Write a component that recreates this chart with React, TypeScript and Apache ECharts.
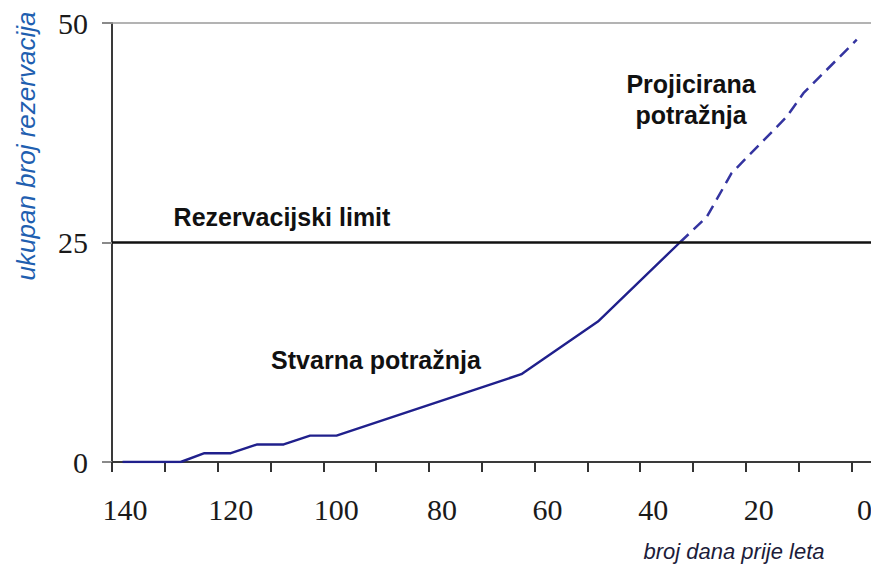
import React, { useEffect, useRef } from "react";
import * as echarts from "echarts";

// Actual bookings (days before flight, cumulative bookings)
const actualDays = [138, 127, 122.5, 117.5, 112.5, 107.5, 102.5, 97.5, 62.5, 48, 32.5];
const actualBookings = [0, 0, 1, 1, 2, 2, 3, 3, 10, 16, 25];

// Projected demand (dashed)
const projectedDays = [32.5, 27.4, 22.7, 12.3, 9.1, -1];
const projectedBookings = [25, 27.9, 32.9, 39.3, 42, 48.1];

// Booking limit and axis ticks
const bookingLimit = 25;
const yTicks = [0, 25, 50];
const xTickValues = [0, 10, 20, 30, 40, 50, 60, 70, 80, 90, 100, 110, 120, 130, 140];
const xLabelValues = [0, 20, 40, 60, 80, 100, 120, 140];

export default function App() {
  const ref = useRef<HTMLDivElement>(null);

  useEffect(() => {
    if (!ref.current) return;
    const chart = echarts.init(ref.current, null, { renderer: "svg" });
    const lineColor = "#20208c";
    chart.setOption({
      animation: false,
      backgroundColor: "#ffffff",
      grid: { left: 112, right: 0, top: 23, bottom: 102, containLabel: false, outerBoundsMode: "none" },
      xAxis: {
        type: "value",
        inverse: true,
        min: -3.7,
        max: 140,
        axisLine: { show: true, onZero: false, lineStyle: { color: "#3a3a3a", width: 2 } },
        axisTick: {
          show: true,
          inside: false,
          length: 10,
          customValues: xTickValues,
          lineStyle: { color: "#333", width: 2 },
        },
        axisLabel: {
          customValues: xLabelValues,
          margin: 32,
          padding: [0, 0, 0, 26],
          fontFamily: "Liberation Serif",
          fontSize: 30,
          color: "#1a1a1a",
        },
        splitLine: { show: false },
      },
      yAxis: {
        type: "value",
        min: 0,
        max: 50,
        interval: 25,
        axisLine: { show: true, onZero: false, lineStyle: { color: "#3a3a3a", width: 2 } },
        axisTick: {
          show: true,
          length: 10,
          customValues: yTicks,
          lineStyle: { color: "#8a8a8a", width: 2 },
        },
        axisLabel: {
          customValues: yTicks,
          margin: 24,
          fontFamily: "Liberation Serif",
          fontSize: 30,
          color: "#1a1a1a",
        },
        splitLine: { show: false },
      },
      series: [
        {
          name: "Stvarna potražnja",
          type: "line",
          data: actualDays.map((d, i) => [d, actualBookings[i]]),
          symbol: "none",
          lineStyle: { color: lineColor, width: 2.4 },
          z: 3,
          markLine: {
            silent: true,
            symbol: ["none", "none"],
            label: { show: false },
            data: [
              { yAxis: bookingLimit, lineStyle: { color: "#111", width: 2.5, type: "solid" } },
              { yAxis: yTicks[2], lineStyle: { color: "#9a9a9a", width: 1.6, type: "solid" } },
            ],
          },
        },
        {
          name: "Projicirana potražnja",
          type: "line",
          data: projectedDays.map((d, i) => [d, projectedBookings[i]]),
          symbol: "none",
          lineStyle: { color: "#3434a0", width: 2.5, type: [12, 7] },
          z: 3,
        },
      ],
      graphic: [
        {
          type: "text",
          x: 282,
          y: 217,
          style: {
            text: "Rezervacijski limit",
            font: "bold 25px 'Liberation Sans', Arial, sans-serif",
            fill: "#111",
            align: "center",
            verticalAlign: "middle",
          },
        },
        {
          type: "text",
          x: 376,
          y: 360,
          style: {
            text: "Stvarna potražnja",
            font: "bold 25px 'Liberation Sans', Arial, sans-serif",
            fill: "#111",
            align: "center",
            verticalAlign: "middle",
          },
        },
        {
          type: "text",
          x: 691,
          y: 99,
          style: {
            text: "Projicirana\npotražnja",
            font: "bold 25px 'Liberation Sans', Arial, sans-serif",
            lineHeight: 31,
            fill: "#111",
            align: "center",
            verticalAlign: "middle",
          },
        },
        {
          type: "text",
          x: 26,
          y: 146,
          rotation: Math.PI / 2,
          style: {
            text: "ukupan broj rezervacija",
            font: "italic 26px 'Liberation Sans', Arial, sans-serif",
            fill: "#1f5fb0",
            align: "center",
            verticalAlign: "middle",
          },
        },
        {
          type: "text",
          x: 734,
          y: 551,
          style: {
            text: "broj dana prije leta",
            font: "italic 22px 'Liberation Sans', Arial, sans-serif",
            fill: "#1c1c3a",
            align: "center",
            verticalAlign: "middle",
          },
        },
      ],
    });
    return () => chart.dispose();
  }, []);

  return (
    <div
      ref={ref}
      style={{ position: "fixed", left: 0, top: 0, width: 871, height: 564, background: "#fff" }}
    />
  );
}
